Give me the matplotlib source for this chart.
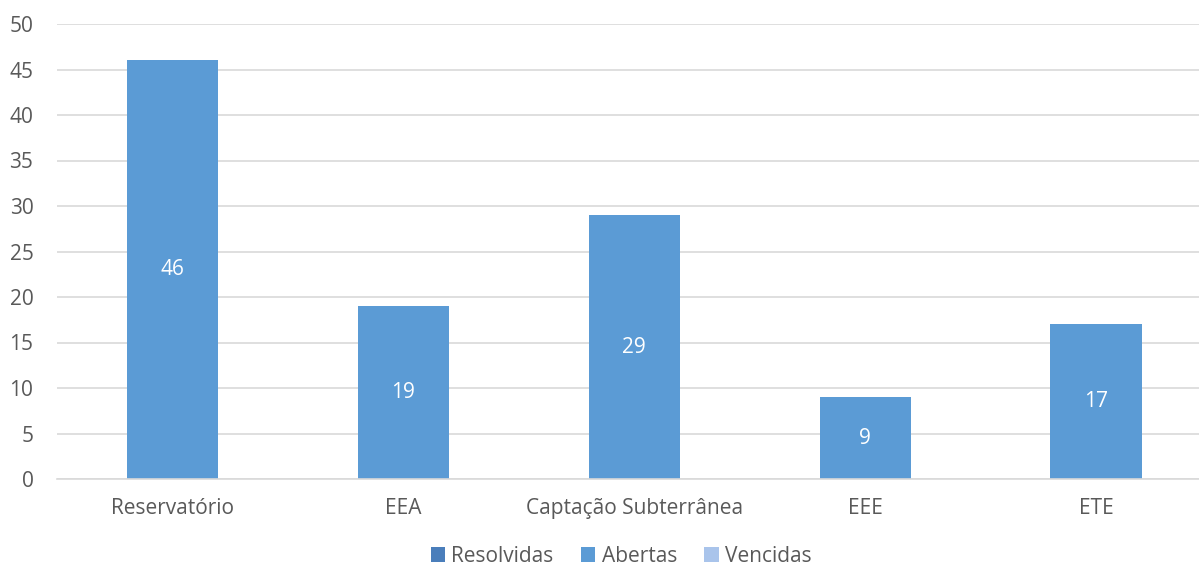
import numpy as np
import matplotlib.pyplot as plt

categorias = ["Reservatório", "EEA", "Captação Subterrânea", "EEE", "ETE"]
resolvidas = [0, 0, 0, 0, 0]
abertas = [46, 19, 29, 9, 17]
vencidas = [0, 0, 0, 0, 0]

cores = ["#4A7EBB", "#5B9BD5", "#A9C4EB"]
plt.rcParams['font.family'] = ['Open Sans', 'DejaVu Sans']

fig = plt.figure(figsize=(11.99, 5.69), dpi=100)
ax = fig.add_axes([57 / 1199, 1 - 479 / 569, 1154.5 / 1199, 455 / 569])

x = np.arange(len(categorias))
w = 0.395
b1 = ax.bar(x, resolvidas, w, color=cores[0], label="Resolvidas")
b2 = ax.bar(x, abertas, w, bottom=resolvidas, color=cores[1], label="Abertas")
b3 = ax.bar(x, vencidas, w, bottom=np.add(resolvidas, abertas), color=cores[2], label="Vencidas")

for xi, v in zip(x, abertas):
    ax.text(xi, v / 2, str(v), ha="center", va="center", color="white", fontsize=15)

ax.set_xlim(-0.5, len(categorias) - 0.5)
ax.set_ylim(0, 50)
ax.set_yticks(range(0, 51, 5))
ax.set_xticks(x)
ax.set_xticklabels(categorias)
ax.yaxis.grid(True, color="#D9D9D9", linewidth=1.2)
ax.set_axisbelow(True)
for s in ["top", "right", "left"]:
    ax.spines[s].set_visible(False)
ax.spines["bottom"].set_color("#D9D9D9")
ax.spines["bottom"].set_linewidth(1.2)
ax.tick_params(axis="both", length=0, labelsize=15, colors="#595959")
ax.tick_params(axis="x", pad=14)
ax.tick_params(axis="y", pad=17)

leg = fig.legend(handles=[b1, b2, b3], loc="center", bbox_to_anchor=(0.518, 0.022),
                 ncol=3, frameon=False, fontsize=15, handlelength=0.7, handleheight=0.7,
                 handletextpad=0.3, columnspacing=1.3, borderpad=0)
for t in leg.get_texts():
    t.set_color("#595959")

fig.savefig("out.png", dpi=100)
